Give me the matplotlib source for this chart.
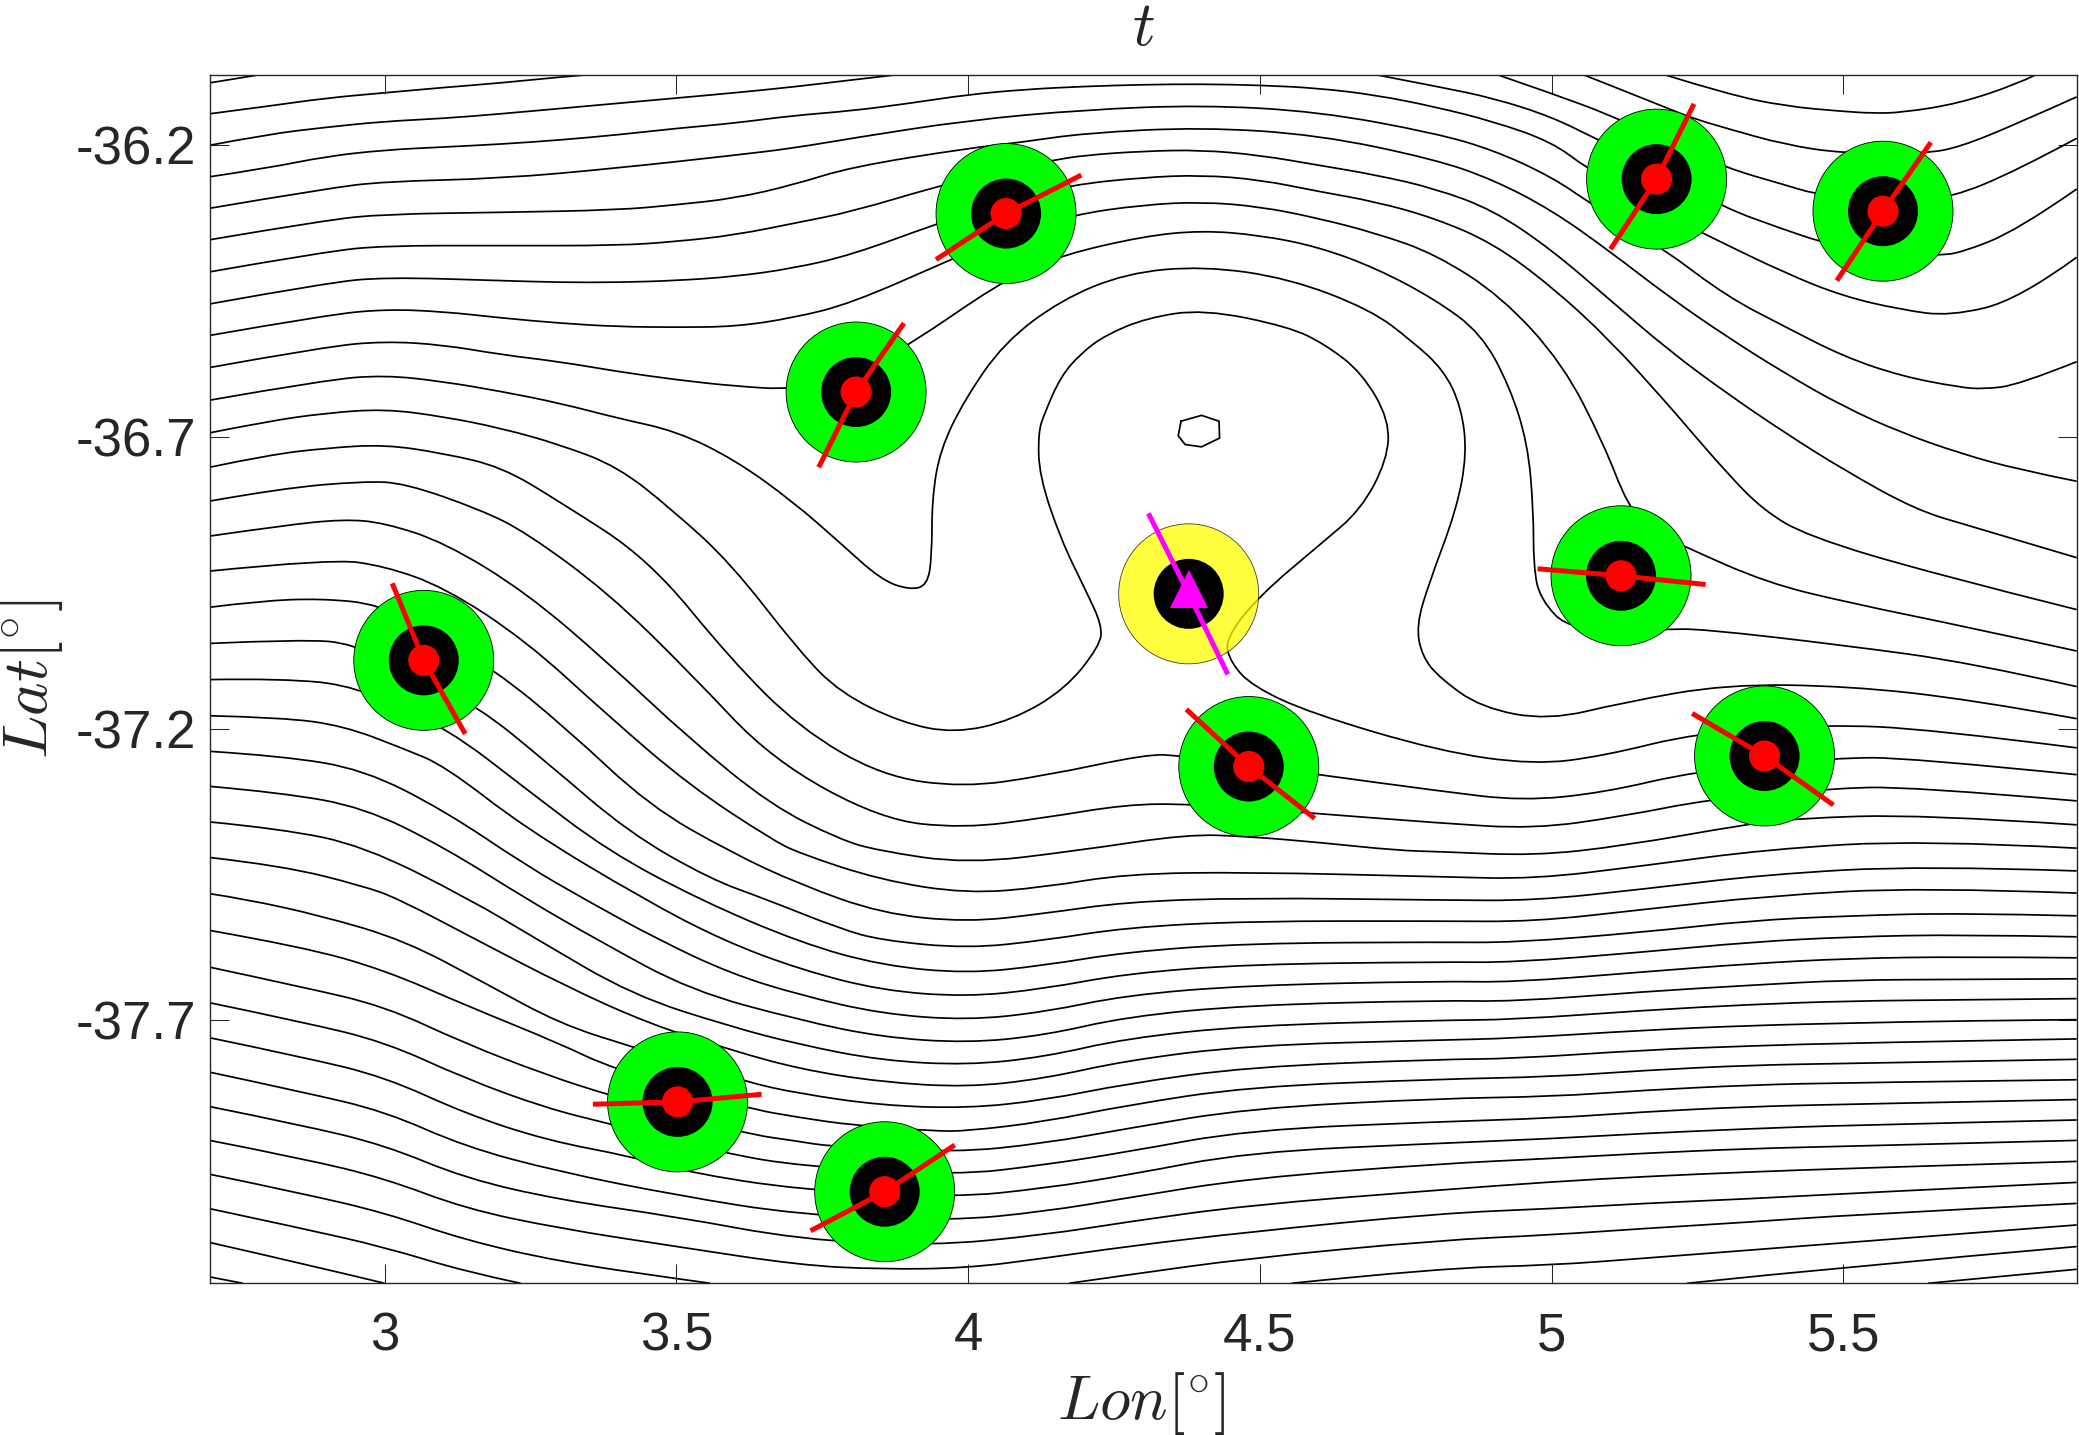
import matplotlib
matplotlib.use('Agg')
import matplotlib.pyplot as plt
import numpy as np
from matplotlib.path import Path
from matplotlib.patches import PathPatch, Circle

plt.rcParams['font.family'] = ['Liberation Sans', 'DejaVu Sans']
plt.rcParams['mathtext.fontset'] = 'cm'

# contour lines as (lon, lat)
c01 = [(2.70,-36.093),(2.78,-36.08)]
c02 = [(2.70,-36.146),(2.8,-36.133),(2.9,-36.119),(3.0,-36.11),(3.1,-36.101),(3.2,-36.093),(3.3,-36.083),(3.338,-36.08)]
c03 = [(2.70,-36.2),(2.8,-36.181),(2.9,-36.169),(3.0,-36.159),(3.1,-36.154),(3.2,-36.146),(3.3,-36.137),(3.4,-36.128),(3.5,-36.119),(3.6,-36.11),(3.7,-36.1),(3.8,-36.088),(3.87,-36.08)]
t00 = [(4.704,-36.08),(4.808,-36.1),(4.9,-36.119),(5.0,-36.151),(5.08,-36.191),(5.2,-36.248),(5.29,-36.305),(5.4,-36.345),(5.46,-36.365),(5.5,-36.374),(5.6,-36.391),(5.662,-36.388),(5.7,-36.385),(5.8,-36.345),(5.9,-36.275)]
t01 = [(4.91,-36.08),(5.0,-36.111),(5.1,-36.148),(5.2,-36.194),(5.3,-36.239),(5.4,-36.268),(5.45,-36.283),(5.5,-36.288),(5.6,-36.294),(5.683,-36.291),(5.8,-36.242),(5.9,-36.188)]
t02 = [(5.057,-36.08),(5.1,-36.097),(5.2,-36.137),(5.243,-36.154),(5.3,-36.171),(5.4,-36.199),(5.5,-36.214),(5.641,-36.214),(5.7,-36.203),(5.8,-36.162),(5.9,-36.117)]
t03 = [(5.197,-36.08),(5.3,-36.112),(5.4,-36.133),(5.5,-36.142),(5.55,-36.145),(5.6,-36.144),(5.7,-36.128),(5.8,-36.094),(5.828,-36.08)]
c04 = [(2.7,-36.254),(2.8,-36.239),(2.9,-36.219),(3.0,-36.208),(3.1,-36.203),(3.2,-36.198),(3.3,-36.191),(3.4,-36.182),(3.5,-36.171),(3.6,-36.162),(3.7,-36.149),(3.8,-36.141),(3.9,-36.128),(4.0,-36.113),(4.1,-36.104),(4.2,-36.099),(4.3,-36.096),(4.4,-36.095),(4.5,-36.097),(4.6,-36.102),(4.7,-36.114),(4.8,-36.134),(4.9,-36.159),(5.0,-36.194),(5.06,-36.239),(5.18,-36.311),(5.27,-36.356),(5.4,-36.419),(5.5,-36.459),(5.6,-36.482),(5.683,-36.493),(5.8,-36.465),(5.9,-36.392)]
c05 = [(2.7,-36.308),(2.9,-36.274),(3.0,-36.262),(3.2,-36.257),(3.4,-36.239),(3.6,-36.217),(3.7,-36.205),(3.8,-36.188),(4.0,-36.157),(4.2,-36.139),(4.4,-36.131),(4.6,-36.142),(4.8,-36.179),(4.9,-36.208),(5.0,-36.254),(5.07,-36.302),(5.19,-36.376),(5.3,-36.459),(5.4,-36.511),(5.5,-36.562),(5.6,-36.596),(5.7,-36.615),(5.74,-36.618),(5.8,-36.611),(5.9,-36.571)]
c06 = [(2.7,-36.362),(2.9,-36.328),(3.0,-36.318),(3.2,-36.315),(3.4,-36.311),(3.5,-36.302),(3.6,-36.291),(3.7,-36.268),(3.8,-36.237),(4.0,-36.205),(4.09,-36.195),(4.2,-36.179),(4.4,-36.169),(4.6,-36.182),(4.8,-36.224),(4.9,-36.259),(5.0,-36.311),(5.1,-36.382),(5.2,-36.459),(5.3,-36.528),(5.4,-36.591),(5.5,-36.648),(5.6,-36.693),(5.7,-36.728),(5.8,-36.756),(5.9,-36.776)]
c07 = [(2.7,-36.417),(2.9,-36.382),(3.0,-36.372),(3.2,-36.372),(3.4,-36.372),(3.5,-36.365),(3.6,-36.354),(3.71,-36.332),(3.8,-36.314),(3.945,-36.271),(4.05,-36.245),(4.143,-36.226),(4.2,-36.217),(4.3,-36.21),(4.4,-36.208),(4.5,-36.217),(4.6,-36.234),(4.7,-36.251),(4.8,-36.274),(4.9,-36.311),(5.0,-36.379),(5.1,-36.465),(5.2,-36.551),(5.3,-36.625),(5.4,-36.693),(5.5,-36.756),(5.624,-36.825),(5.718,-36.853),(5.9,-36.907)]
c08 = [(2.7,-36.472),(2.9,-36.436),(3.0,-36.426),(3.2,-36.432),(3.3,-36.435),(3.4,-36.435),(3.5,-36.432),(3.6,-36.425),(3.7,-36.411),(3.8,-36.388),(3.945,-36.335),(4.06,-36.297),(4.176,-36.268),(4.3,-36.255),(4.4,-36.251),(4.5,-36.259),(4.6,-36.279),(4.7,-36.297),(4.8,-36.325),(4.9,-36.368),(5.0,-36.442),(5.1,-36.534),(5.2,-36.645),(5.229,-36.679),(5.299,-36.76),(5.362,-36.825),(5.438,-36.87),(5.648,-36.933),(5.9,-36.996)]
c09 = [(2.7,-36.526),(2.9,-36.491),(3.0,-36.481),(3.1,-36.485),(3.2,-36.496),(3.3,-36.505),(3.4,-36.511),(3.5,-36.512),(3.6,-36.511),(3.7,-36.496),(3.8,-36.471),(3.97,-36.396),(4.07,-36.354),(4.18,-36.319),(4.3,-36.302),(4.4,-36.297),(4.5,-36.305),(4.6,-36.325),(4.7,-36.351),(4.8,-36.386),(4.914,-36.459),(5.019,-36.574),(5.089,-36.711),(5.131,-36.819),(5.17,-36.86),(5.232,-36.89),(5.369,-36.95),(5.508,-36.984),(5.718,-37.027),(5.9,-37.067)]
c10 = [(2.7,-36.581),(2.9,-36.545),(3.0,-36.536),(3.1,-36.542),(3.2,-36.559),(3.3,-36.571),(3.4,-36.588),(3.5,-36.602),(3.6,-36.613),(3.7,-36.619),(3.8,-36.596),(3.9,-36.542),(4.054,-36.436),(4.11,-36.414),(4.162,-36.388),(4.3,-36.356),(4.4,-36.346),(4.5,-36.354),(4.6,-36.374),(4.7,-36.411),(4.8,-36.464),(4.879,-36.522),(4.928,-36.613),(4.959,-36.711),(4.969,-36.825),(4.969,-36.921),(4.98,-36.978),(5.033,-37.033),(5.194,-37.03),(5.257,-37.029),(5.508,-37.058),(5.718,-37.087),(5.9,-37.128)]
c11 = [(2.7,-36.637),(2.9,-36.602),(3.0,-36.594),(3.1,-36.605),(3.2,-36.622),(3.3,-36.642),(3.4,-36.668),(3.5,-36.69),(3.6,-36.739),(3.7,-36.811),(3.781,-36.882),(3.851,-36.945),(3.899,-36.962),(3.93,-36.955),(3.938,-36.904),(3.938,-36.807),(3.952,-36.722),(3.994,-36.636),(4.061,-36.539),(4.159,-36.465),(4.271,-36.419),(4.403,-36.407),(4.55,-36.428),(4.69,-36.482),(4.76,-36.535),(4.815,-36.585),(4.845,-36.648),(4.855,-36.728),(4.837,-36.825),(4.79,-36.95),(4.768,-37.024),(4.778,-37.076),(4.808,-37.113),(4.879,-37.164),(4.994,-37.186),(5.124,-37.155),(5.299,-37.124),(5.508,-37.127),(5.718,-37.15),(5.9,-37.183)]
c12 = [(2.7,-36.693),(2.8,-36.673),(2.9,-36.659),(3.0,-36.652),(3.1,-36.665),(3.2,-36.685),(3.3,-36.713),(3.4,-36.751),(3.493,-36.825),(3.593,-36.916),(3.711,-37.068),(3.781,-37.139),(3.886,-37.19),(3.977,-37.208),(4.075,-37.186),(4.166,-37.133),(4.225,-37.059),(4.23,-37.024),(4.201,-36.962),(4.159,-36.876),(4.122,-36.767),(4.12,-36.693),(4.131,-36.659),(4.159,-36.596),(4.194,-36.556),(4.236,-36.525),(4.306,-36.496),(4.403,-36.481),(4.55,-36.511),(4.613,-36.542),(4.675,-36.59),(4.722,-36.671),(4.718,-36.74),(4.673,-36.825),(4.606,-36.882),(4.498,-36.973),(4.44,-37.047),(4.45,-37.087),(4.487,-37.127),(4.585,-37.173),(4.808,-37.239),(4.97,-37.262),(5.089,-37.247),(5.25,-37.207),(5.473,-37.193),(5.648,-37.201),(5.9,-37.233)]
c13 = [(2.7,-36.752),(2.8,-36.731),(2.9,-36.719),(3.0,-36.713),(3.1,-36.728),(3.2,-36.751),(3.3,-36.811),(3.453,-36.91),(3.593,-37.081),(3.711,-37.199),(3.851,-37.281),(3.991,-37.301),(4.131,-37.281),(4.306,-37.244),(4.362,-37.246),(4.601,-37.279),(4.808,-37.307),(4.949,-37.324),(5.089,-37.31),(5.246,-37.273),(5.487,-37.25),(5.613,-37.25),(5.9,-37.279)]
c14 = [(2.7,-36.81),(2.824,-36.788),(2.964,-36.776),(3.034,-36.779),(3.165,-36.825),(3.243,-36.864),(3.383,-36.967),(3.523,-37.104),(3.663,-37.253),(3.851,-37.356),(3.991,-37.371),(4.131,-37.353),(4.271,-37.33),(4.379,-37.329),(4.578,-37.344),(4.808,-37.362),(4.97,-37.372),(5.124,-37.35),(5.271,-37.321),(5.473,-37.303),(5.613,-37.299),(5.9,-37.324)]
c15 = [(2.7,-36.87),(2.824,-36.852),(2.929,-36.841),(2.999,-36.847),(3.103,-36.881),(3.243,-36.967),(3.383,-37.087),(3.523,-37.218),(3.663,-37.332),(3.78,-37.39),(3.844,-37.409),(3.998,-37.432),(4.19,-37.409),(4.376,-37.381),(4.48,-37.385),(4.6,-37.395),(4.736,-37.409),(4.809,-37.411),(4.97,-37.418),(5.124,-37.401),(5.334,-37.364),(5.417,-37.354),(5.634,-37.347),(5.9,-37.365)]
c16 = [(2.7,-36.93),(2.908,-36.909),(2.999,-36.921),(3.103,-36.958),(3.243,-37.05),(3.383,-37.178),(3.523,-37.298),(3.663,-37.39),(3.711,-37.414),(3.851,-37.46),(3.998,-37.483),(4.131,-37.472),(4.271,-37.449),(4.48,-37.446),(4.808,-37.454),(4.97,-37.458),(5.159,-37.435),(5.369,-37.407),(5.634,-37.391),(5.9,-37.405)]
c17 = [(2.7,-36.992),(2.787,-36.981),(2.892,-36.977),(2.992,-36.987),(3.076,-37.036),(3.187,-37.098),(3.313,-37.201),(3.453,-37.332),(3.593,-37.412),(3.711,-37.467),(3.851,-37.517),(3.998,-37.532),(4.131,-37.517),(4.271,-37.497),(4.48,-37.49),(4.808,-37.494),(4.97,-37.495),(5.159,-37.475),(5.369,-37.45),(5.634,-37.435),(5.9,-37.444)]
c18 = [(2.7,-37.054),(2.857,-37.047),(2.948,-37.054),(3.048,-37.11),(3.159,-37.161),(3.278,-37.258),(3.418,-37.378),(3.558,-37.458),(3.652,-37.492),(3.78,-37.543),(3.851,-37.563),(3.998,-37.577),(4.131,-37.563),(4.271,-37.541),(4.48,-37.53),(4.808,-37.53),(4.97,-37.531),(5.159,-37.51),(5.369,-37.487),(5.634,-37.472),(5.9,-37.482)]
c19 = [(2.7,-37.116),(2.824,-37.114),(2.953,-37.127),(3.11,-37.201),(3.243,-37.304),(3.383,-37.41),(3.541,-37.494),(3.712,-37.567),(3.851,-37.606),(3.998,-37.62),(4.131,-37.606),(4.271,-37.583),(4.48,-37.568),(4.808,-37.566),(4.935,-37.567),(5.159,-37.549),(5.341,-37.529),(5.508,-37.521),(5.704,-37.516),(5.9,-37.521)]
c20 = [(2.7,-37.178),(2.824,-37.181),(2.929,-37.195),(3.034,-37.235),(3.103,-37.264),(3.243,-37.372),(3.443,-37.492),(3.579,-37.563),(3.712,-37.613),(3.851,-37.649),(3.998,-37.66),(4.131,-37.646),(4.271,-37.62),(4.48,-37.604),(4.808,-37.6),(4.935,-37.601),(5.159,-37.583),(5.341,-37.566),(5.508,-37.557),(5.704,-37.553),(5.9,-37.557)]
c21 = [(2.7,-37.239),(2.824,-37.247),(2.964,-37.27),(3.103,-37.341),(3.243,-37.435),(3.345,-37.494),(3.471,-37.563),(3.593,-37.62),(3.712,-37.657),(3.851,-37.689),(3.998,-37.7),(4.131,-37.686),(4.271,-37.657),(4.48,-37.64),(4.808,-37.633),(4.935,-37.635),(5.159,-37.617),(5.341,-37.603),(5.508,-37.594),(5.704,-37.591),(5.9,-37.593)]
c22 = [(2.7,-37.299),(2.824,-37.31),(2.964,-37.335),(3.103,-37.404),(3.246,-37.494),(3.366,-37.563),(3.524,-37.649),(3.712,-37.7),(3.851,-37.729),(3.998,-37.739),(4.131,-37.726),(4.271,-37.694),(4.48,-37.674),(4.808,-37.666),(4.935,-37.668),(5.159,-37.651),(5.341,-37.64),(5.508,-37.631),(5.704,-37.63),(5.9,-37.629)]
c23 = [(2.7,-37.36),(2.824,-37.372),(2.964,-37.401),(3.145,-37.492),(3.264,-37.563),(3.425,-37.657),(3.593,-37.711),(3.712,-37.742),(3.851,-37.769),(3.998,-37.777),(4.131,-37.763),(4.271,-37.731),(4.48,-37.709),(4.808,-37.7),(4.935,-37.699),(5.159,-37.683),(5.341,-37.673),(5.508,-37.667),(5.704,-37.665),(5.9,-37.663)]
c24 = [(2.7,-37.421),(2.824,-37.435),(2.964,-37.47),(3.024,-37.492),(3.159,-37.563),(3.313,-37.643),(3.453,-37.706),(3.593,-37.751),(3.712,-37.784),(3.851,-37.806),(3.998,-37.815),(4.131,-37.8),(4.271,-37.769),(4.48,-37.743),(4.808,-37.734),(4.935,-37.731),(5.159,-37.717),(5.341,-37.709),(5.508,-37.705),(5.704,-37.701),(5.9,-37.699)]
c25 = [(2.7,-37.483),(2.76,-37.492),(2.892,-37.521),(3.034,-37.563),(3.173,-37.637),(3.3,-37.706),(3.425,-37.746),(3.62,-37.806),(3.712,-37.826),(3.851,-37.846),(3.998,-37.851),(4.131,-37.837),(4.271,-37.809),(4.48,-37.78),(4.808,-37.767),(4.935,-37.766),(5.159,-37.751),(5.341,-37.744),(5.508,-37.739),(5.9,-37.732)]
c26 = [(2.7,-37.546),(2.859,-37.574),(3.0,-37.614),(3.138,-37.674),(3.3,-37.74),(3.39,-37.783),(3.621,-37.851),(3.712,-37.867),(3.802,-37.88),(3.942,-37.89),(3.998,-37.89),(4.131,-37.874),(4.271,-37.846),(4.48,-37.814),(4.808,-37.801),(5.0,-37.797),(5.159,-37.786),(5.341,-37.777),(5.508,-37.774),(5.9,-37.767)]
c27 = [(2.7,-37.609),(2.859,-37.643),(3.0,-37.676),(3.138,-37.74),(3.278,-37.794),(3.383,-37.828),(3.614,-37.894),(3.712,-37.908),(3.76,-37.916),(3.977,-37.927),(4.131,-37.911),(4.271,-37.886),(4.48,-37.851),(4.808,-37.834),(5.0,-37.831),(5.159,-37.82),(5.341,-37.811),(5.508,-37.807),(5.9,-37.802)]
c28 = [(2.7,-37.67),(2.859,-37.703),(3.0,-37.737),(3.138,-37.8),(3.278,-37.851),(3.383,-37.877),(3.582,-37.928),(3.712,-37.95),(3.977,-37.966),(4.131,-37.948),(4.271,-37.926),(4.48,-37.888),(4.808,-37.874),(5.0,-37.868),(5.159,-37.857),(5.341,-37.848),(5.508,-37.844),(5.9,-37.836)]
c29 = [(2.7,-37.73),(2.859,-37.763),(3.0,-37.797),(3.138,-37.86),(3.278,-37.906),(3.425,-37.934),(3.516,-37.96),(3.712,-37.991),(3.977,-38.004),(4.131,-37.988),(4.271,-37.966),(4.48,-37.926),(4.808,-37.911),(5.0,-37.903),(5.159,-37.894),(5.341,-37.886),(5.508,-37.88),(5.9,-37.871)]
c30 = [(2.7,-37.789),(2.859,-37.823),(3.0,-37.856),(3.138,-37.917),(3.3,-37.96),(3.5,-38.0),(3.712,-38.034),(3.97,-38.044),(4.131,-38.028),(4.271,-38.005),(4.48,-37.971),(4.808,-37.946),(5.0,-37.937),(5.159,-37.928),(5.341,-37.92),(5.508,-37.916),(5.9,-37.906)]
c31 = [(2.7,-37.848),(2.859,-37.88),(3.0,-37.914),(3.138,-37.971),(3.3,-38.008),(3.5,-38.037),(3.712,-38.076),(3.935,-38.087),(4.131,-38.068),(4.271,-38.046),(4.48,-38.017),(4.808,-37.991),(5.0,-37.977),(5.159,-37.968),(5.341,-37.96),(5.508,-37.954),(5.9,-37.942)]
c32 = [(2.7,-37.906),(2.859,-37.937),(3.0,-37.971),(3.138,-38.023),(3.3,-38.057),(3.5,-38.088),(3.712,-38.12),(3.851,-38.127),(3.998,-38.125),(4.131,-38.108),(4.271,-38.088),(4.48,-38.063),(4.808,-38.031),(5.0,-38.023),(5.159,-38.014),(5.341,-38.006),(5.508,-37.997),(5.9,-37.978)]
c33 = [(2.7,-37.964),(2.859,-37.997),(3.0,-38.03),(3.138,-38.077),(3.3,-38.114),(3.5,-38.143),(3.558,-38.151)]
c34 = [(2.7,-38.023),(2.859,-38.057),(3.0,-38.089),(3.138,-38.131),(3.233,-38.151)]
c35 = [(2.7,-38.081),(2.859,-38.117),(3.0,-38.151)]
c36 = [(2.7,-38.14),(2.757,-38.151)]
b01 = [(4.173,-38.151),(4.271,-38.137),(4.48,-38.108),(4.808,-38.077),(5.0,-38.068),(5.159,-38.057),(5.341,-38.046),(5.508,-38.034),(5.9,-38.014)]
b02 = [(4.554,-38.151),(4.808,-38.125),(5.0,-38.12),(5.159,-38.108),(5.341,-38.094),(5.508,-38.081),(5.9,-38.051)]
b03 = [(5.232,-38.151),(5.5,-38.123),(5.9,-38.088)]
b04 = [(5.645,-38.151),(5.9,-38.127)]
contours = [c01, c02, c03, t00, t01, t02, t03, c04, c05, c06, c07, c08, c09, c10, c11, c12, c13, c14, c15, c16, c17, c18,
            c19, c20, c21, c22, c23, c24, c25, c26, c27, c28, c29, c30, c31, c32, c33, c34, c35, c36, b01, b02, b03, b04]

# the small closed contour in the middle
inner_lon = [4.365, 4.4, 4.43, 4.431, 4.4, 4.372, 4.36, 4.365]
inner_lat = [-36.673, -36.663, -36.673, -36.702, -36.717, -36.713, -36.698, -36.673]

# drifters: centre and the two ends of the bar
drift_lon = [5.18, 5.568, 4.065, 3.808, 5.119, 5.365, 4.481, 3.067, 3.502, 3.857]
drift_lat = [-36.258, -36.313, -36.317, -36.623, -36.938, -37.247, -37.265, -37.083, -37.84, -37.994]
bar_lon0 = [5.244, 5.65, 4.194, 3.89, 4.976, 5.241, 4.374, 3.013, 3.357, 3.73]
bar_lat0 = [-36.129, -36.195, -36.251, -36.505, -36.926, -37.174, -37.167, -36.951, -37.844, -38.061]
bar_lon1 = [5.101, 5.489, 3.945, 3.744, 5.264, 5.483, 4.594, 3.138, 3.646, 3.977]
bar_lat1 = [-36.378, -36.432, -36.396, -36.752, -36.953, -37.331, -37.354, -37.209, -37.827, -37.914]

target_lon, target_lat = 4.378, -36.969
target_mark_lat = -36.96
target_bar_lon = [4.309, 4.378, 4.445]
target_bar_lat = [-36.831, -36.969, -37.107]

xticks = [3, 3.5, 4, 4.5, 5, 5.5]
xticklabels = ['3', '3.5', '4', '4.5', '5', '5.5']
yticks = [-36.2, -36.7, -37.2, -37.7]
yticklabels = ['-36.2', '-36.7', '-37.2', '-37.7']


def smooth_path(points):
    # quadratic pieces with the read points as control points
    p = np.array(points, dtype=float)
    if len(p) < 3:
        return Path(p)
    verts = [p[0]]
    codes = [Path.MOVETO]
    for i in range(1, len(p) - 1):
        end = p[-1] if i == len(p) - 2 else (p[i] + p[i + 1]) / 2
        verts += [p[i], end]
        codes += [Path.CURVE3, Path.CURVE3]
    return Path(verts, codes)


W, H = 2079, 1435
fig = plt.figure(figsize=(W / 100, H / 100), dpi=100)
ax = fig.add_axes([210.2 / W, 1 - 1283.3 / H, (2076.7 - 210.2) / W, (1283.3 - 75.3) / H])

for pts in contours:
    ax.add_patch(PathPatch(smooth_path(pts), fill=False, edgecolor='k', lw=1.25, zorder=2))
ax.plot(inner_lon, inner_lat, color='k', lw=1.25, zorder=2)

# rings
for lon, lat, lon0, lat0, lon1, lat1 in zip(drift_lon, drift_lat, bar_lon0, bar_lat0, bar_lon1, bar_lat1):
    ax.add_patch(Circle((lon, lat), 0.12, facecolor='#00ff00', edgecolor='k', lw=0.6, zorder=3))
    ax.add_patch(Circle((lon, lat), 0.06, facecolor='k', edgecolor='none', zorder=4))
    ax.plot([lon0, lon, lon1], [lat0, lat, lat1], color='#ff0000', lw=3.6, solid_capstyle='butt', zorder=5)
    ax.add_patch(Circle((lon, lat), 0.0267, facecolor='#ff0000', edgecolor='none', zorder=6))

ax.add_patch(Circle((target_lon, target_lat), 0.12, facecolor='#ffff00', alpha=0.75, edgecolor='k', lw=0.6, zorder=3))
ax.add_patch(Circle((target_lon, target_lat), 0.06, facecolor='k', edgecolor='none', zorder=4))
ax.plot(target_bar_lon, target_bar_lat, color='#ff00ff', lw=3.6, solid_capstyle='butt', zorder=5)
ax.plot([target_lon], [target_mark_lat], marker='^', color='#ff00ff', ms=27, mew=0, zorder=6)

ax.set_xlim(2.701, 5.9)
ax.set_ylim(-38.151, -36.08)
ax.set_xticks(xticks)
ax.set_xticklabels(xticklabels)
ax.set_yticks(yticks)
ax.set_yticklabels(yticklabels)
ax.tick_params(direction='in', length=13.5, width=0.75, color='#262626', labelcolor='#262626',
               labelsize=38, top=True, right=True)
ax.tick_params(axis='x', pad=20)
ax.tick_params(axis='y', pad=10)
for s in ax.spines.values():
    s.set_color('#262626')
    s.set_linewidth(1.0)

ax.set_xlabel(r'$Lon[^{\circ}]$', fontsize=45, color='#262626')
ax.set_ylabel(r'$Lat[^{\circ}]$', fontsize=46, color='#262626')
ax.xaxis.set_label_coords(0.4987, -0.0718)
ax.yaxis.set_label_coords(-0.0778, 0.5)
ax.set_title(r'$t$', fontsize=45, color='#262626', pad=22)

fig.savefig('out.png', dpi=100)
